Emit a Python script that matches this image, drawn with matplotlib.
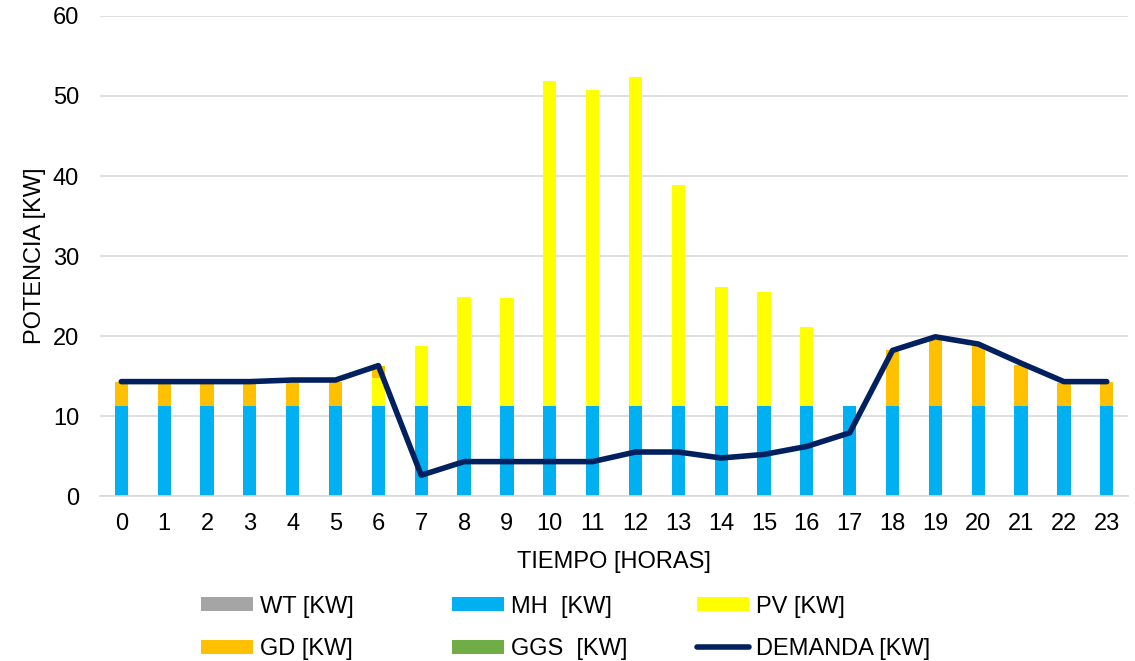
import matplotlib.pyplot as plt
import numpy as np

plt.rcParams['font.family'] = ['Liberation Sans', 'DejaVu Sans']

horas = list(range(24))
wt = [0] * 24
mh = [11.2] * 24
pv = [0, 0, 0, 0, 0, 0, 3.6, 7.5, 13.7, 13.55, 40.7, 39.55, 41.2, 27.7, 14.9, 14.3, 9.9, 0,
      0, 0, 0, 0, 0, 0]
gd = [3.0, 3.0, 3.0, 3.0, 3.0, 3.0, 1.45, 0, 0, 0, 0, 0, 0, 0, 0, 0, 0, 0,
      7.0, 8.3, 7.5, 5.2, 2.9, 3.0]
ggs = [0] * 24
demanda = [14.3, 14.3, 14.3, 14.3, 14.5, 14.5, 16.3, 2.6, 4.3, 4.3, 4.3, 4.3, 5.5, 5.5,
           4.75, 5.2, 6.2, 7.9, 18.2, 19.9, 19.0, 16.6, 14.3, 14.3]

colors = {"WT": "#A5A5A5", "MH": "#00B0F0", "PV": "#FFFF00", "GD": "#FFC000",
          "GGS": "#70AD47", "DEM": "#002060"}
fs = 17

fig = plt.figure(figsize=(11.35, 6.61), dpi=100)
ax = fig.add_axes([0.088, 0.2496, 0.906, 0.7262])

x = np.arange(len(horas))
w = 0.31
bottom = np.zeros(24)
handles = {}
for name, vals in [("WT", wt), ("MH", mh), ("PV", pv), ("GD", gd), ("GGS", ggs)]:
    handles[name] = ax.bar(x, vals, w, bottom=bottom, color=colors[name], zorder=2)
    bottom += np.array(vals)
line, = ax.plot(x, demanda, color=colors["DEM"], lw=4, zorder=3, solid_capstyle='round',
                solid_joinstyle='round')

ax.set_xlim(-0.5, 23.5)
ax.set_ylim(0, 60)
ax.set_yticks(range(0, 61, 10))
ax.set_xticks(x)
ax.set_xticklabels([str(h) for h in horas])
ax.tick_params(labelsize=fs, length=0)
ax.tick_params(axis='y', pad=15)
ax.tick_params(axis='x', pad=12)
ax.grid(axis='y', color='#D9D9D9', lw=1.2, zorder=0)
for s in ['top', 'right', 'left']:
    ax.spines[s].set_visible(False)
ax.spines['bottom'].set_color('#D9D9D9')
ax.spines['bottom'].set_linewidth(1.2)
ax.set_xlabel("TIEMPO [HORAS]", fontsize=fs, labelpad=12)
ax.set_ylabel("POTENCIA [KW]", fontsize=fs, labelpad=5)

# one legend per column so the columns sit where they do in the original
cols = [
    (0.177, [handles["WT"], handles["GD"]], ["WT [KW]", "GD [KW]"]),
    (0.398, [handles["MH"], handles["GGS"]], ["MH  [KW]", "GGS  [KW]"]),
    (0.614, [handles["PV"], line], ["PV [KW]", "DEMANDA [KW]"]),
]
for xpos, hs, ls in cols:
    fig.legend(hs, ls, loc='center left', bbox_to_anchor=(xpos, 0.050), frameon=False,
               fontsize=fs, handlelength=2.2, handleheight=0.53, labelspacing=0.86,
               handletextpad=0.3, borderpad=0, borderaxespad=0)

fig.savefig("out.png", dpi=100)
